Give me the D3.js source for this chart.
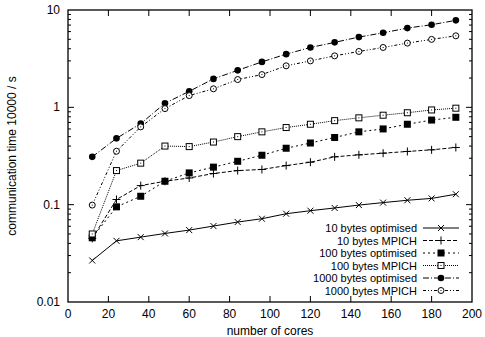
<!DOCTYPE html>
<html>
<head>
<meta charset="utf-8">
<script src="https://cdn.jsdelivr.net/npm/d3@7"></script>
<style>
  body { margin: 0; background: #fff; }
  text { font-family: "Liberation Sans", Arial, sans-serif; font-size: 12px; fill: #000; }
  text.leg { font-size: 11px; }
</style>
</head>
<body>
<div id="chart"></div>
<script>
(function () {

// cores on the x axis
const cores = [12, 24, 36, 48, 60, 72, 84, 96, 108, 120, 132, 144, 156, 168, 180, 192];

const opt10 = [0.0267, 0.0425, 0.0464, 0.0506, 0.0548, 0.0603, 0.0663, 0.0717, 0.0807, 0.0867, 0.0925, 0.099, 0.105, 0.111, 0.116, 0.128];
const mpich10 = [0.045, 0.113, 0.157, 0.174, 0.188, 0.209, 0.224, 0.23, 0.252, 0.273, 0.31, 0.325, 0.338, 0.352, 0.366, 0.387];
const opt100 = [0.0457, 0.095, 0.122, 0.174, 0.212, 0.243, 0.279, 0.322, 0.38, 0.43, 0.49, 0.56, 0.60, 0.67, 0.74, 0.79];
const mpich100 = [0.050, 0.224, 0.267, 0.40, 0.395, 0.44, 0.50, 0.56, 0.62, 0.67, 0.73, 0.78, 0.83, 0.88, 0.94, 0.98];
const opt1000 = [0.31, 0.48, 0.68, 1.1, 1.46, 1.96, 2.4, 2.93, 3.52, 4.12, 4.65, 5.27, 5.83, 6.52, 7.06, 7.83];
const mpich1000 = [0.099, 0.354, 0.63, 0.97, 1.32, 1.55, 1.93, 2.17, 2.67, 3.0, 3.38, 3.75, 4.12, 4.57, 4.99, 5.43];

const names = ["10 bytes optimised", "10 bytes MPICH", "100 bytes optimised", "100 bytes MPICH", "1000 bytes optimised", "1000 bytes MPICH"];
const xTicks = [0, 20, 40, 60, 80, 100, 120, 140, 160, 180, 200];
const yTicks = [0.01, 0.1, 1, 10];

const series = [
  {name: names[0], values: opt10, dash: null, mark: "cross"},
  {name: names[1], values: mpich10, dash: "4,2", mark: "plus"},
  {name: names[2], values: opt100, dash: "2,3", mark: "fsquare"},
  {name: names[3], values: mpich100, dash: "1,1", mark: "osquare"},
  {name: names[4], values: opt1000, dash: "6,2,1,2", mark: "fcircle"},
  {name: names[5], values: mpich1000, dash: "3,2,1,2,1,2", mark: "ocircle"}
];

const W = 485, H = 337;
const margin = {top: 10, right: 13, bottom: 35, left: 68};
const width = W - margin.left - margin.right,
      height = H - margin.top - margin.bottom;

const svg = d3.select("#chart").append("svg")
    .attr("width", W)
    .attr("height", H)
  .append("g")
    .attr("transform", "translate(" + margin.left + "," + margin.top + ")");

const x = d3.scaleLinear().domain([0, 200]).range([0, width]);
const y = d3.scaleLog().domain([0.01, 10]).range([height, 0]);

// minor ticks 2..9 per decade
const minor = [];
[0.01, 0.1, 1].forEach(d => { for (let k = 2; k <= 9; k++) minor.push(d * k); });

const ticks = svg.append("g").attr("stroke", "#000").attr("stroke-width", 1);
xTicks.slice(1, -1).forEach(t => {
  ticks.append("line").attr("x1", x(t)).attr("x2", x(t)).attr("y1", height).attr("y2", height - 6);
  ticks.append("line").attr("x1", x(t)).attr("x2", x(t)).attr("y1", 0).attr("y2", 6);
});
yTicks.slice(1, -1).forEach(t => {
  ticks.append("line").attr("x1", 0).attr("x2", 6).attr("y1", y(t)).attr("y2", y(t));
  ticks.append("line").attr("x1", width).attr("x2", width - 6).attr("y1", y(t)).attr("y2", y(t));
});
minor.forEach(t => {
  ticks.append("line").attr("x1", 0).attr("x2", 3).attr("y1", y(t)).attr("y2", y(t));
  ticks.append("line").attr("x1", width).attr("x2", width - 3).attr("y1", y(t)).attr("y2", y(t));
});

// frame
svg.append("rect")
  .attr("width", width).attr("height", height)
  .attr("fill", "none").attr("stroke", "#000").attr("stroke-width", 1.3);

// tick labels
svg.selectAll(".xl").data(xTicks).join("text")
  .attr("x", d => x(d)).attr("y", height + 16)
  .attr("text-anchor", "middle")
  .text(d => d);
svg.selectAll(".yl").data(yTicks).join("text")
  .attr("x", -8).attr("y", d => y(d) + 4)
  .attr("text-anchor", "end")
  .text(d => d);

svg.append("text")
  .attr("x", width / 2).attr("y", height + 33)
  .attr("text-anchor", "middle")
  .text("number of cores");
svg.append("text")
  .attr("transform", "translate(" + (-52) + "," + (height / 2) + ") rotate(-90)")
  .attr("text-anchor", "middle")
  .text("communication time 10000 / s");

function marker(g, kind, cx, cy) {
  const s = 3;
  if (kind === "cross") {
    g.append("path").attr("d", `M${cx - s},${cy - s}L${cx + s},${cy + s}M${cx - s},${cy + s}L${cx + s},${cy - s}`)
      .attr("stroke", "#000").attr("stroke-width", 1);
  } else if (kind === "plus") {
    g.append("path").attr("d", `M${cx - 4},${cy}L${cx + 4},${cy}M${cx},${cy - 4}L${cx},${cy + 4}`)
      .attr("stroke", "#000").attr("stroke-width", 1);
  } else if (kind === "fsquare") {
    g.append("rect").attr("x", cx - 3.5).attr("y", cy - 3.5).attr("width", 7).attr("height", 7).attr("fill", "#000");
  } else if (kind === "osquare") {
    g.append("rect").attr("x", cx - 3).attr("y", cy - 3).attr("width", 6).attr("height", 6)
      .attr("fill", "#fff").attr("stroke", "#000").attr("stroke-width", 1);
    g.append("rect").attr("x", cx - 0.5).attr("y", cy - 0.5).attr("width", 1).attr("height", 1).attr("fill", "#000");
  } else if (kind === "fcircle") {
    g.append("circle").attr("cx", cx).attr("cy", cy).attr("r", 3.3).attr("fill", "#000");
  } else if (kind === "ocircle") {
    g.append("circle").attr("cx", cx).attr("cy", cy).attr("r", 3)
      .attr("fill", "#fff").attr("stroke", "#000").attr("stroke-width", 1);
    g.append("rect").attr("x", cx - 0.5).attr("y", cy - 0.5).attr("width", 1).attr("height", 1).attr("fill", "#000");
  }
}

const line = d3.line().x((d, i) => x(cores[i])).y(d => y(d));

series.forEach(s => {
  svg.append("path")
    .attr("d", line(s.values))
    .attr("fill", "none")
    .attr("stroke", "#000")
    .attr("stroke-width", 1)
    .attr("stroke-dasharray", s.dash);
  const g = svg.append("g");
  s.values.forEach((v, i) => marker(g, s.mark, x(cores[i]), y(v)));
});

// legend
const legX = 349, legY = 218, legStep = 12.5;
series.forEach((s, i) => {
  const ly = legY + i * legStep;
  svg.append("text").attr("class", "leg").attr("x", legX).attr("y", ly + 4)
    .attr("text-anchor", "end").text(s.name);
  svg.append("line")
    .attr("x1", legX + 6).attr("x2", legX + 42)
    .attr("y1", ly).attr("y2", ly)
    .attr("stroke", "#000").attr("stroke-width", 1)
    .attr("stroke-dasharray", s.dash);
  marker(svg, s.mark, legX + 24, ly);
});

})()
</script>
</body>
</html>
